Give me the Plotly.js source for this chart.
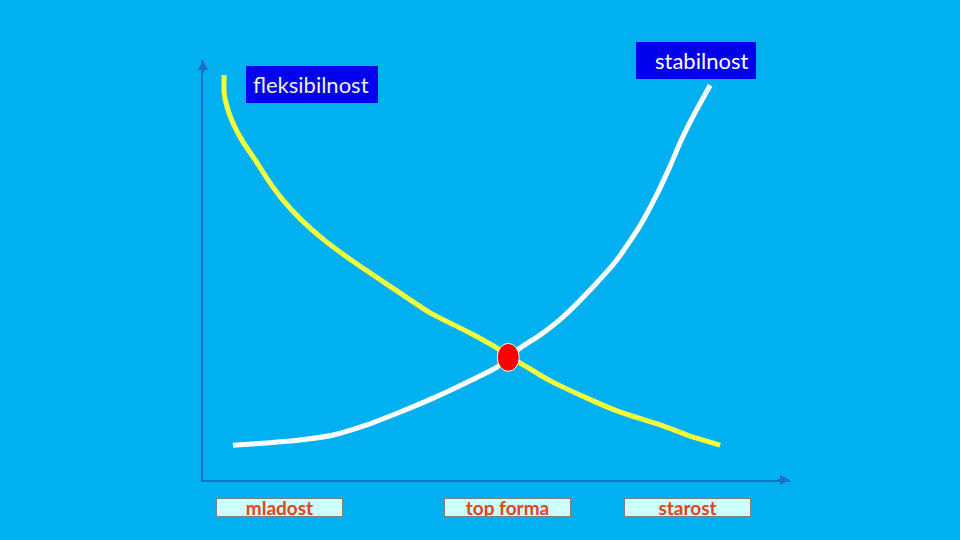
<!DOCTYPE html>
<html>
<head>
<meta charset="utf-8">
<script src="https://cdn.plot.ly/plotly-3.0.1.min.js"></script>
<style>html,body{margin:0;padding:0;background:#00B0F0;}#chart{width:960px;height:540px;}</style>
</head>
<body>
<div id="chart"></div>
<script>
// Stages of life (x axis) and two qualitative curves (y in 0..100)
const categories = ['mladost', 'top forma', 'starost'];
const categoryX = [13.0, 51.9, 82.5];

const seriesNames = ['fleksibilnost', 'stabilnost'];

const flexX = [3.6, 3.6, 4.1, 5.1, 6.8, 8.9, 11.1, 13.6, 16.7, 20.4, 24.5, 29.0, 33.6, 38.7, 45.5, 50.1, 52.0, 54.0, 57.4, 59.6, 65.4, 71.0, 77.9, 83.5, 88.1];
const flexY = [96.4, 92.1, 88.8, 85.0, 80.5, 76.2, 71.4, 66.7, 62.0, 57.4, 53.1, 48.8, 44.5, 39.8, 35.0, 31.4, 29.5, 27.9, 25.0, 23.3, 19.5, 16.2, 13.1, 10.2, 8.3];

const stabX = [5.1, 10.9, 16.5, 22.2, 27.9, 33.6, 39.2, 45.0, 50.1, 52.0, 54.0, 57.4, 61.3, 65.9, 70.5, 74.3, 77.1, 79.5, 81.5, 83.6, 86.4];
const stabY = [8.3, 8.8, 9.5, 10.7, 13.1, 16.2, 19.5, 23.3, 26.9, 29.0, 31.4, 34.5, 38.8, 45.2, 52.4, 60.2, 67.4, 74.5, 81.0, 86.9, 94.0];

const crossPoint = [52.0, 29.2];

// plot area in pixels: x 203..790, y 60..480
const L = 203, R = 790, T = 60, B = 480;
const px = v => (v - L) / (R - L);
const py = v => (B - v) / (B - T);

const traces = [
  {x: flexX, y: flexY, type: 'scatter', mode: 'lines', name: seriesNames[0],
   line: {color: '#F2FF3A', width: 5, shape: 'spline', smoothing: 0.5}, hoverinfo: 'skip'},
  {x: stabX, y: stabY, type: 'scatter', mode: 'lines', name: seriesNames[1],
   line: {color: '#FFFFFF', width: 5, shape: 'spline', smoothing: 0.5}, hoverinfo: 'skip'}
];

const axisColor = '#1F6FC6';
const annotations = [];
// axis arrows
annotations.push({xref: 'paper', yref: 'paper', x: 1, y: 0, ax: -14, ay: 0, axref: 'pixel', ayref: 'pixel',
  text: '', showarrow: true, arrowhead: 2, arrowsize: 1, arrowwidth: 2, arrowcolor: axisColor});
annotations.push({xref: 'paper', yref: 'paper', x: 0, y: 1, ax: 0, ay: 14, axref: 'pixel', ayref: 'pixel',
  text: '', showarrow: true, arrowhead: 2, arrowsize: 1, arrowwidth: 2, arrowcolor: axisColor});

// category labels (boxes under the axis)
categories.forEach((c, i) => {
  annotations.push({xref: 'x', yref: 'paper', x: categoryX[i], y: py(507.5),
    xanchor: 'center', yanchor: 'middle', text: '<b>' + c + '</b>', showarrow: false,
    font: {family: 'Lato, "Liberation Sans", sans-serif', size: 19, color: '#E2441C'},
    bgcolor: '#CCFFFF', bordercolor: '#7F7F7F', borderwidth: 1, borderpad: 0,
    width: 125, height: 17});
});

// series labels
annotations.push({xref: 'paper', yref: 'paper', x: px(311), y: py(84.5), xanchor: 'center', yanchor: 'middle',
  text: seriesNames[0], showarrow: false,
  font: {family: 'Lato, "Liberation Sans", sans-serif', size: 22, color: '#F0F0D2'}});
annotations.push({xref: 'paper', yref: 'paper', x: px(701.5), y: py(60.5), xanchor: 'center', yanchor: 'middle',
  text: seriesNames[1], showarrow: false,
  font: {family: 'Lato, "Liberation Sans", sans-serif', size: 22, color: '#FFFFFF'}});

const shapes = [
  {type: 'rect', xref: 'paper', yref: 'paper', x0: px(246), x1: px(378), y0: py(103), y1: py(66),
   fillcolor: '#0000EE', line: {width: 0}, layer: 'below'},
  {type: 'rect', xref: 'paper', yref: 'paper', x0: px(636), x1: px(756), y0: py(79), y1: py(42),
   fillcolor: '#0000EE', line: {width: 0}, layer: 'below'},
  {type: 'circle', xref: 'x', yref: 'y', xsizemode: 'pixel', ysizemode: 'pixel',
   xanchor: crossPoint[0], yanchor: crossPoint[1], x0: -11, x1: 11, y0: -14, y1: 14,
   fillcolor: '#FF0000', line: {color: '#FFFFFF', width: 1}, layer: 'above'}
];

const layout = {
  width: 960, height: 540,
  margin: {l: L, r: 960 - R, t: T, b: 540 - B, pad: 0},
  paper_bgcolor: '#00B0F0', plot_bgcolor: '#00B0F0',
  showlegend: false,
  xaxis: {range: [0, 100], showgrid: false, zeroline: false, showticklabels: false, ticks: '',
    showline: true, linecolor: axisColor, linewidth: 2, fixedrange: true},
  yaxis: {range: [0, 100], showgrid: false, zeroline: false, showticklabels: false, ticks: '',
    showline: true, linecolor: axisColor, linewidth: 2, fixedrange: true},
  annotations: annotations,
  shapes: shapes
};

Plotly.newPlot('chart', traces, layout, {displayModeBar: false, staticPlot: true});
</script>
</body>
</html>
